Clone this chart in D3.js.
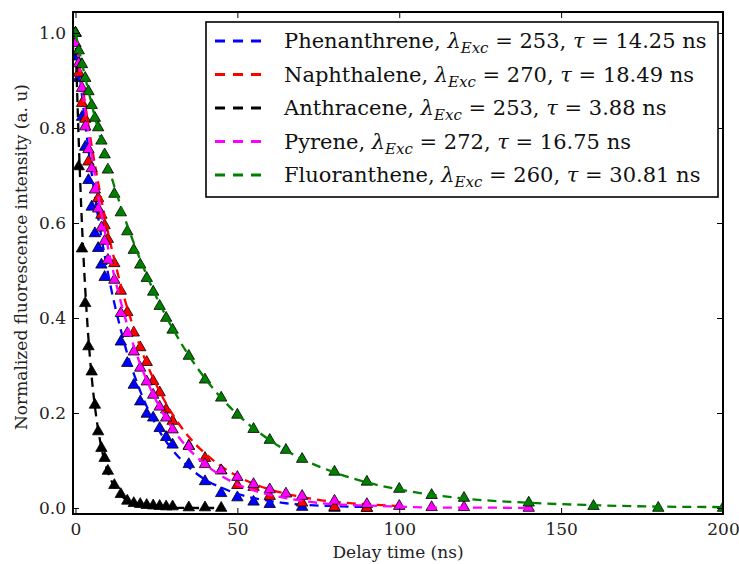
<!DOCTYPE html>
<html>
<head>
<meta charset="utf-8">
<script src="https://cdn.jsdelivr.net/npm/d3@7"></script>
<style>
  body { margin: 0; background: #fff; }
</style>
</head>
<body>
<svg id="chart" width="739" height="564"></svg>
<script>
// measured points (delay in ns, normalized intensity)
const phenDelay = [0, 1, 2, 3, 4, 5, 6, 7, 8, 9, 14, 16, 18, 20, 22, 24, 26, 28, 30, 35, 40, 45, 50, 55, 60, 70, 80, 90];
const phenValue = [0.95, 0.905, 0.823, 0.76, 0.69, 0.634, 0.578, 0.547, 0.512, 0.486, 0.35, 0.305, 0.259, 0.224, 0.198, 0.19, 0.168, 0.149, 0.133, 0.092, 0.056, 0.031, 0.022, 0.013, 0.008, 0.002, 0.0, 0.0];

const naphDelay = [0, 1, 2, 3, 4, 7, 8, 9, 10, 12, 14, 16, 18, 20, 22, 24, 26, 28, 30, 35, 40, 45, 50, 55, 60, 70, 80, 90];
const naphValue = [1.0, 0.916, 0.852, 0.819, 0.729, 0.652, 0.617, 0.595, 0.566, 0.515, 0.457, 0.412, 0.369, 0.338, 0.307, 0.267, 0.243, 0.207, 0.183, 0.131, 0.105, 0.079, 0.048, 0.044, 0.025, 0.011, 0.002, 0.0];

const anthDelay = [0, 1, 2, 3, 4, 5, 6, 7, 8, 9, 10, 12, 14, 16, 18, 20, 22, 24, 26, 28, 30, 35, 40, 45];
const anthValue = [1.0, 0.719, 0.546, 0.431, 0.34, 0.287, 0.217, 0.161, 0.126, 0.105, 0.078, 0.048, 0.029, 0.015, 0.01, 0.008, 0.006, 0.005, 0.004, 0.003, 0.003, 0.001, 0.001, 0.0];

const pyreDelay = [0, 1, 2, 3, 4, 5, 6, 7, 8, 9, 10, 12, 14, 16, 18, 20, 22, 24, 26, 28, 30, 35, 40, 45, 50, 55, 60, 65, 70, 80, 90, 100, 110, 120, 140];
const pyreValue = [0.978, 0.936, 0.884, 0.803, 0.755, 0.715, 0.67, 0.63, 0.59, 0.562, 0.522, 0.48, 0.41, 0.368, 0.329, 0.295, 0.266, 0.238, 0.213, 0.19, 0.165, 0.13, 0.092, 0.079, 0.065, 0.05, 0.039, 0.03, 0.025, 0.015, 0.008, 0.004, 0.0015, 0.0015, 0.0];

const fluoDelay = [0, 1, 2, 3, 4, 5, 6, 7, 8, 9, 10, 12, 14, 16, 18, 20, 22, 24, 26, 28, 30, 35, 40, 45, 50, 55, 60, 65, 70, 80, 90, 100, 110, 120, 140, 160, 180, 200];
const fluoValue = [1.0, 0.963, 0.934, 0.905, 0.877, 0.848, 0.821, 0.801, 0.773, 0.744, 0.712, 0.661, 0.622, 0.582, 0.543, 0.512, 0.484, 0.455, 0.425, 0.4, 0.375, 0.32, 0.27, 0.232, 0.196, 0.166, 0.143, 0.122, 0.103, 0.076, 0.055, 0.04, 0.027, 0.021, 0.011, 0.004, 0.0, 0.0];

// fitted decay curves
const fitDelay = [0, 1, 2, 3, 4, 5, 6, 7, 8, 9, 10, 12, 14, 16, 18, 20, 22, 24, 26, 28, 30, 35, 40, 45, 50, 55, 60, 65, 70, 80, 90, 100, 110, 120, 140, 160, 180, 200];
const phenFit = [1, 0.932, 0.869, 0.81, 0.755, 0.704, 0.656, 0.612, 0.57, 0.532, 0.496, 0.431, 0.375, 0.325, 0.283, 0.246, 0.214, 0.186, 0.161, 0.14, 0.122, 0.086, 0.06, 0.043, 0.03, 0.021, 0.015, 0.01, 0.007, 0.004, 0.002];
const naphFit = [1, 0.947, 0.897, 0.85, 0.805, 0.763, 0.723, 0.685, 0.649, 0.615, 0.582, 0.523, 0.469, 0.421, 0.378, 0.339, 0.304, 0.273, 0.245, 0.22, 0.197, 0.15, 0.115, 0.088, 0.067, 0.051, 0.039, 0.03, 0.023, 0.013, 0.008, 0.004];
const pyreFit = [1, 0.942, 0.887, 0.836, 0.788, 0.742, 0.699, 0.658, 0.62, 0.584, 0.55, 0.488, 0.434, 0.385, 0.341, 0.303, 0.269, 0.239, 0.212, 0.188, 0.167, 0.124, 0.092, 0.068, 0.05, 0.037, 0.028, 0.021, 0.015, 0.008, 0.005, 0.003, 0.001, 0.001, 0.0];
const fluoFit = [1, 0.968, 0.937, 0.907, 0.878, 0.85, 0.823, 0.797, 0.771, 0.747, 0.723, 0.677, 0.635, 0.595, 0.558, 0.523, 0.49, 0.459, 0.43, 0.403, 0.378, 0.321, 0.273, 0.232, 0.197, 0.168, 0.143, 0.121, 0.103, 0.075, 0.054, 0.039, 0.028, 0.02, 0.011, 0.006, 0.003, 0.002];
const anthFitDelay = [0, 0.5, 1, 1.5, 2, 2.5, 3, 4, 5, 6, 7, 8, 9, 10, 12, 14, 16, 18, 20, 25, 30, 35, 40, 45];
const anthFit = [1, 0.879, 0.773, 0.679, 0.597, 0.525, 0.462, 0.357, 0.276, 0.213, 0.165, 0.127, 0.098, 0.076, 0.045, 0.027, 0.016, 0.0097, 0.0058, 0.0016, 0.0004, 0.0001, 0, 0];

const names = ["Phenanthrene", "Naphthalene", "Anthracene", "Pyrene", "Fluoranthene"];
const excitation = [253, 270, 253, 272, 260];
const lifetimes = ["14.25", "18.49", "3.88", "16.75", "30.81"];
const colors = ["#0000ff", "#ff0000", "#000000", "#ff00ff", "#007f00"];

const xTicks = [0, 50, 100, 150, 200];
const yTicks = [0.0, 0.2, 0.4, 0.6, 0.8, 1.0];

(function () {

  const serif = "'DejaVu Serif', 'Liberation Serif', serif";
  const svg = d3.select("#chart").attr("font-family", serif);
  const left = 73, right = 723, top = 12, bottom = 514;

  const x = d3.scaleLinear().domain([-0.77, 200]).range([left, right]);
  const y = d3.scaleLinear().domain([-0.0126, 1.0442]).range([bottom, top]);

  const series = [
    { delay: phenDelay, value: phenValue, fitX: fitDelay, fit: phenFit },
    { delay: naphDelay, value: naphValue, fitX: fitDelay, fit: naphFit },
    { delay: anthDelay, value: anthValue, fitX: anthFitDelay, fit: anthFit },
    { delay: pyreDelay, value: pyreValue, fitX: fitDelay, fit: pyreFit },
    { delay: fluoDelay, value: fluoValue, fitX: fitDelay, fit: fluoFit }
  ];

  svg.append("defs").append("clipPath").attr("id", "plot-clip")
    .append("rect")
    .attr("x", left).attr("y", top)
    .attr("width", right - left).attr("height", bottom - top);

  const plot = svg.append("g").attr("clip-path", "url(#plot-clip)");

  const line = d3.line()
    .x(d => x(d[0]))
    .y(d => y(d[1]))
    .curve(d3.curveMonotoneX);

  const triangle = d3.symbol().type(d3.symbolTriangle).size(56);

  series.forEach((s, i) => {
    const pts = s.delay.map((t, j) => [t, s.value[j]]);
    plot.append("g")
      .selectAll("path")
      .data(pts)
      .enter().append("path")
      .attr("d", triangle)
      .attr("transform", d => `translate(${x(d[0])},${y(d[1])})`)
      .attr("fill", colors[i])
      .attr("stroke", "#000")
      .attr("stroke-width", 0.8);

    const fitPts = s.fit.map((v, j) => [s.fitX[j], v]);
    plot.append("path")
      .datum(fitPts)
      .attr("d", line)
      .attr("fill", "none")
      .attr("stroke", colors[i])
      .attr("stroke-width", 2.3)
      .attr("stroke-dasharray", "9,6");
  });

  // axes: inward ticks on all four sides
  const tickLen = 6;
  const xAxisB = d3.axisBottom(x).tickValues(xTicks).tickSize(-tickLen).tickPadding(tickLen + 3).tickFormat(d3.format("d"));
  const xAxisT = d3.axisTop(x).tickValues(xTicks).tickSize(-tickLen).tickFormat("");
  const yAxisL = d3.axisLeft(y).tickValues(yTicks).tickSize(-tickLen).tickPadding(tickLen + 1).tickFormat(d3.format(".1f"));
  const yAxisR = d3.axisRight(y).tickValues(yTicks).tickSize(-tickLen).tickFormat("");

  const axes = [
    svg.append("g").attr("transform", `translate(0,${bottom})`).call(xAxisB),
    svg.append("g").attr("transform", `translate(0,${top})`).call(xAxisT),
    svg.append("g").attr("transform", `translate(${left},0)`).call(yAxisL),
    svg.append("g").attr("transform", `translate(${right},0)`).call(yAxisR)
  ];
  axes.forEach(a => {
    a.attr("font-family", serif);
    a.select(".domain").remove();
    a.selectAll(".tick line").attr("stroke", "#000").attr("stroke-width", 1);
    a.selectAll(".tick text")
      .attr("font-family", serif)
      .attr("font-size", 17)
      .attr("fill", "#222");
  });

  svg.append("rect")
    .attr("x", left).attr("y", top)
    .attr("width", right - left).attr("height", bottom - top)
    .attr("fill", "none")
    .attr("stroke", "#000")
    .attr("stroke-width", 2);

  svg.append("text")
    .attr("x", (left + right) / 2)
    .attr("y", 558)
    .attr("text-anchor", "middle")
    .attr("font-size", 17)
    .attr("fill", "#222")
    .text("Delay time (ns)");

  svg.append("text")
    .attr("transform", `translate(27,${(top + bottom) / 2 - 6}) rotate(-90)`)
    .attr("text-anchor", "middle")
    .attr("font-size", 17)
    .attr("fill", "#222")
    .text("Normalized fluorescence intensity (a. u)");

  // legend
  const legend = svg.append("g");
  legend.append("rect")
    .attr("x", 206).attr("y", 22)
    .attr("width", 512).attr("height", 175)
    .attr("fill", "#fff")
    .attr("stroke", "#000")
    .attr("stroke-width", 1.6);

  names.forEach((name, i) => {
    const cy = 41 + i * 33.5;
    legend.append("line")
      .attr("x1", 215).attr("x2", 262)
      .attr("y1", cy).attr("y2", cy)
      .attr("stroke", colors[i])
      .attr("stroke-width", 3)
      .attr("stroke-dasharray", "10,8");

    const t = legend.append("text")
      .attr("x", 284).attr("y", cy + 7)
      .attr("font-size", 21)
      .attr("fill", "#111");
    t.append("tspan").text(name + ", ");
    t.append("tspan").attr("font-style", "italic").text("λ");
    t.append("tspan").attr("font-style", "italic").attr("font-size", 15).attr("dy", 5).text("Exc");
    t.append("tspan").attr("dy", -5).text(" = " + excitation[i] + ", ");
    t.append("tspan").attr("font-style", "italic").text("τ");
    t.append("tspan").text(" = " + lifetimes[i] + " ns");
  });

}());
</script>
</body>
</html>
